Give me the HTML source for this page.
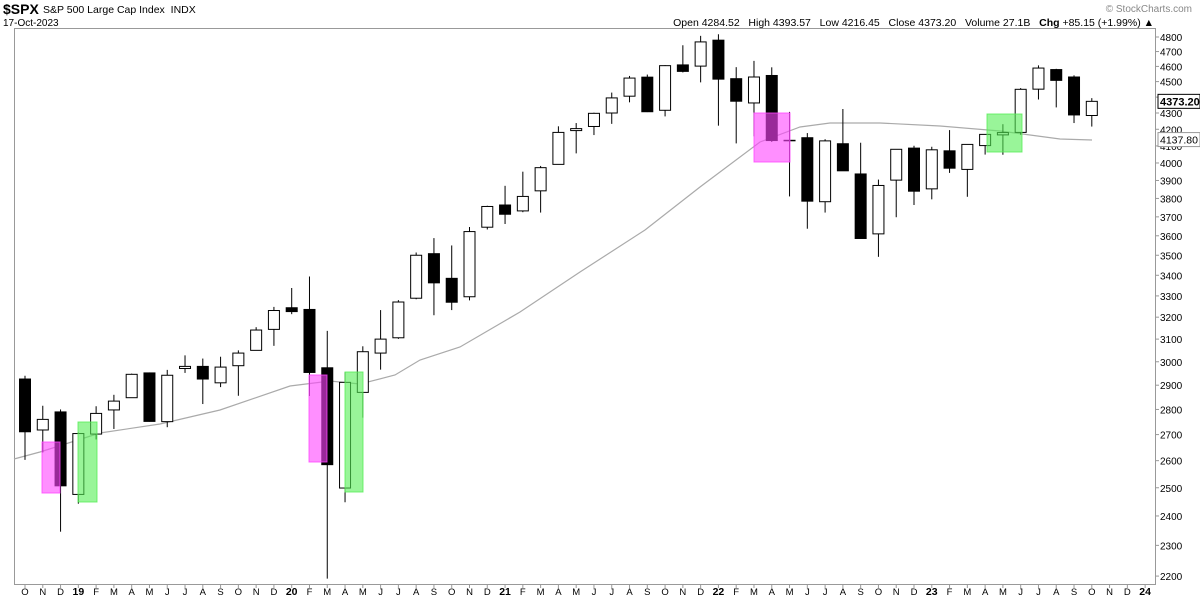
<!DOCTYPE html>
<html><head><meta charset="utf-8"><style>
body{margin:0;background:#fff;width:1200px;height:600px;overflow:hidden;font-family:"Liberation Sans",Arial,sans-serif}
svg text{font-family:"Liberation Sans",Arial,sans-serif;white-space:pre}
</style></head><body>
<svg id="s" width="1200" height="600" xmlns="http://www.w3.org/2000/svg">
<text x="3" y="14" font-size="14" font-weight="bold">$SPX</text>
<text x="43" y="13" font-size="10.5">S&amp;P 500 Large Cap Index  INDX</text>
<text x="3" y="26" font-size="10">17-Oct-2023</text>
<text x="1154" y="26" font-size="10.5" text-anchor="end" xml:space="preserve">Open 4284.52   High 4393.57   Low 4216.45   Close 4373.20   Volume 27.1B   <tspan font-weight="bold">Chg</tspan> +85.15 (+1.99%) ▲</text>
<text x="1192" y="12" font-size="10" fill="#888" text-anchor="end">© StockCharts.com</text>
<rect x="14.5" y="28.5" width="1141" height="556" fill="none" stroke="#999"/>
<g id="g"></g>
</svg>
<script>
const d=[[2926,2940,2603,2711],[2718,2815,2631,2760],[2790,2800,2346,2507],[2476,2708,2443,2704],[2702,2813,2681,2784],[2798,2860,2722,2834],[2848,2949,2848,2946],[2952,2954,2751,2752],[2751,2965,2729,2942],[2971,3028,2952,2980],[2980,3014,2822,2926],[2910,3022,2892,2977],[2983,3050,2856,3038],[3050,3154,3050,3141],[3144,3248,3070,3231],[3244,3338,3214,3226],[3236,3394,2855,2954],[2974,3137,2192,2585],[2499,2955,2448,2912],[2870,3068,2767,3044],[3038,3233,2966,3100],[3106,3280,3101,3271],[3289,3514,3284,3500],[3508,3588,3209,3363],[3385,3550,3233,3270],[3296,3646,3279,3622],[3645,3760,3633,3756],[3764,3870,3662,3714],[3732,3950,3725,3811],[3842,3983,3723,3973],[3992,4218,3992,4181],[4192,4238,4056,4204],[4217,4302,4165,4298],[4300,4429,4233,4395],[4406,4537,4367,4523],[4529,4546,4306,4308],[4317,4608,4279,4605],[4610,4743,4560,4567],[4602,4808,4495,4766],[4778,4819,4222,4516],[4519,4595,4115,4374],[4363,4637,4157,4530],[4540,4594,4124,4132],[4130,4307,3811,4132],[4149,4177,3637,3785],[3782,4140,3723,4130],[4113,4325,3955,3955],[3937,4119,3584,3586],[3610,3905,3492,3872],[3902,4081,3698,4080],[4087,4101,3764,3840],[3853,4095,3795,4077],[4071,4195,3943,3970],[3963,4110,3809,4109],[4102,4170,4049,4169],[4166,4231,4048,4180],[4181,4458,4167,4450],[4451,4607,4385,4589],[4579,4584,4335,4508],[4530,4541,4238,4288],[4284.52,4393.57,4216.45,4373.2]];
const Y=v=>37+691*Math.log(4800/v), X=i=>25+17.78*i;
let h='';
const ma=[[14,459],[40,452],[100,433],[160,424],[220,410],[290,386],[330,381],[360,384],[395,375],[420,360],[460,347],[520,312],[580,272],[645,230],[700,187],[760,142],[800,127],[830,123],[880,123],[940,126],[1000,131],[1060,139],[1092,140]];
h+='<polyline fill="none" stroke="#aaa" stroke-width="1.2" points="'+ma.map(p=>p.join(',')).join(' ')+'"/>';
d.forEach((c,i)=>{const x=X(i),[o,hi,l,cl]=c;const t=Y(Math.max(o,cl)),b=Y(Math.min(o,cl));
h+=`<line x1="${x}" x2="${x}" y1="${Y(hi)}" y2="${Y(l)}" stroke="#000"/>`;
if(b-t<1.5)h+=`<line x1="${x-6}" x2="${x+6}" y1="${t}" y2="${t}" stroke="#000" stroke-width="1.5"/>`;
else h+=`<rect x="${x-5.5}" y="${t}" width="11" height="${b-t}" fill="${cl<o?'#000':'#fff'}" stroke="#000"/>`;});
const R=[[42,60,442,493,'#f4f'],[78,97,422,502,'#5e5'],[309,327,375,462,'#f4f'],[345,363,372,492,'#5e5'],[754,790,113,162,'#f4f'],[987,1022,114,152,'#5e5']];
R.forEach(r=>h+=`<rect x="${r[0]}" y="${r[2]}" width="${r[1]-r[0]}" height="${r[3]-r[2]}" fill="${r[4]}" fill-opacity="0.6" stroke="${r[4]}" stroke-opacity="0.8"/>`);
for(let v=2200;v<=4800;v+=100){const y=Y(v);h+=`<line x1="1155" x2="1159" y1="${y}" y2="${y}" stroke="#999"/><text x="1160" y="${y+4}" font-size="10">${v}</text>`;}
h+=`<rect x="1158" y="${Y(4373.2)-7}" width="42" height="14" fill="#fff" stroke="#000"/><text x="1160" y="${Y(4373.2)+4}" font-size="11" font-weight="bold">4373.20</text>`;
h+=`<rect x="1158" y="${Y(4137.8)-7}" width="42" height="14" fill="#fff" stroke="#999"/><text x="1160" y="${Y(4137.8)+4}" font-size="10.5">4137.80</text>`;
const m="JFMAMJJASOND";
for(let i=0;i<=63;i++){const mi=(9+i)%12,yr=18+Math.floor((9+i)/12);const x=X(i);
h+=`<line x1="${x}" x2="${x}" y1="584" y2="588" stroke="#999"/>`;
h+=mi==0?`<text x="${x}" y="595" font-size="10.5" font-weight="bold" text-anchor="middle">${yr}</text>`:`<text x="${x}" y="595" font-size="9.5" text-anchor="middle">${m[mi]}</text>`;}
document.getElementById('g').innerHTML=h;
</script>
</body></html>
